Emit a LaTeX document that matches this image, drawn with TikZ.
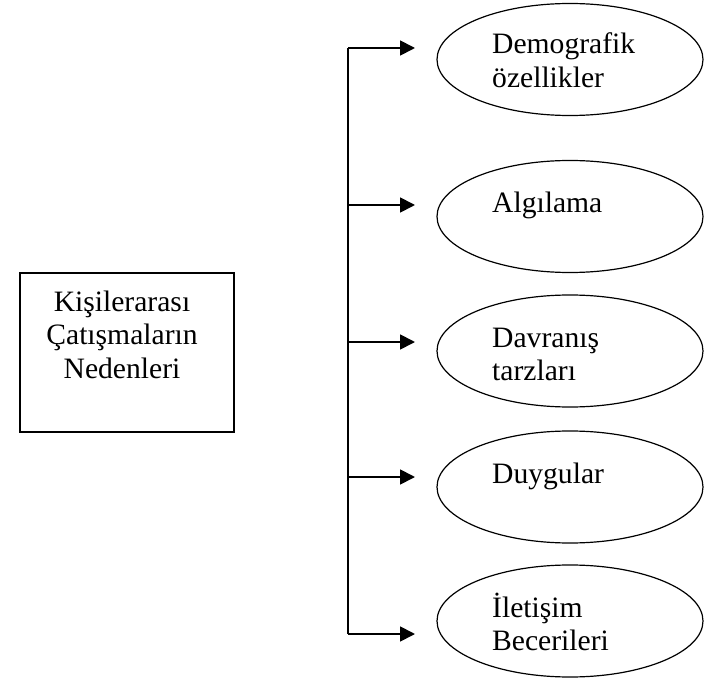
\documentclass[tikz,border=0pt]{standalone}
\usepackage{fontspec}
\setmainfont{Liberation Serif}
\usetikzlibrary{shapes.geometric,arrows.meta}
\begin{document}
\begin{tikzpicture}[x=1pt,y=-1pt,
  every node/.style={font=\fontsize{29.6}{33.5}\selectfont},
  causebox/.style={draw,line width=1.8pt,minimum width=214pt,minimum height=159pt,inner sep=0pt},
  causeoval/.style={draw,ellipse,line width=1.2pt,minimum width=266pt,minimum height=112pt,inner sep=0pt},
  ovaltext/.style={anchor=base west,inner sep=0pt},
  spine/.style={line width=1.8pt},
  branch/.style={line width=1.8pt,-{Triangle[length=15pt,width=15pt]}}
]
\useasboundingbox (0,0) rectangle (705,682);

% left box with the heading
\node[causebox] (main) at (127,352.5) {};
\node[anchor=base,inner sep=0pt] (maintext) at (122,311)
  {\begin{tabular}[t]{@{}c@{}}Kişilerarası\\Çatışmaların\\Nedenleri\end{tabular}};

% ovals on the right
\node[causeoval] (e1) at (570,59.5) {};
\node[causeoval] (e2) at (570,216.5) {};
\node[causeoval] (e3) at (570,351) {};
\node[causeoval] (e4) at (570,487) {};
\node[causeoval] (e5) at (570,621) {};

\node[ovaltext] (t1) at (492,54) {\begin{tabular}[t]{@{}l@{}}Demografik\\özellikler\end{tabular}};
\node[ovaltext] (t2) at (492,213) {Algılama};
\node[ovaltext] (t3) at (492,347) {\begin{tabular}[t]{@{}l@{}}Davranış\\tarzları\end{tabular}};
\node[ovaltext] (t4) at (492,483) {Duygular};
\node[ovaltext] (t5) at (492,617) {\begin{tabular}[t]{@{}l@{}}İletişim\\Becerileri\end{tabular}};

% bracket and arrows
\coordinate (s1) at (348,48);
\coordinate (s2) at (348,205);
\coordinate (s3) at (348,342);
\coordinate (s4) at (348,477);
\coordinate (s5) at (348,634);
\coordinate (h1) at (415,48);
\coordinate (h2) at (415,205);
\coordinate (h3) at (415,342);
\coordinate (h4) at (415,477);
\coordinate (h5) at (415,634);

\draw[spine] (s1) -- (s5);
\foreach \i in {1,...,5} \draw[branch] (s\i) -- (h\i);
\end{tikzpicture}
\end{document}
